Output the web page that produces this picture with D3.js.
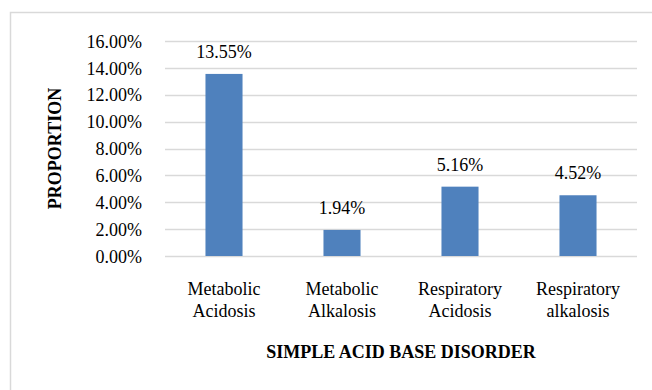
<!DOCTYPE html>
<html>
<head>
<meta charset="utf-8">
<script src="https://cdn.jsdelivr.net/npm/d3@7"></script>
<style>
  html, body { margin: 0; padding: 0; background: #fff; }
  svg { display: block; }
  text { font-family: "Liberation Serif", "Times New Roman", serif; fill: #000; }
</style>
</head>
<body>
<svg id="chart" width="652" height="390"></svg>
<script>
// Simple acid-base disorder proportions
const categories = [
  ["Metabolic", "Acidosis"],
  ["Metabolic", "Alkalosis"],
  ["Respiratory", "Acidosis"],
  ["Respiratory", "alkalosis"]
];
const values = [0.1355, 0.0194, 0.0516, 0.0452];
const yTicks = [0, 0.02, 0.04, 0.06, 0.08, 0.10, 0.12, 0.14, 0.16];
const xTitle = "SIMPLE ACID BASE DISORDER";
const yTitle = "PROPORTION";

const svg = d3.select("#chart");
const plot = { left: 165, right: 637, top: 41, bottom: 256 };

// outer frame (extends past the right and bottom edges)
svg.append("rect")
  .attr("x", 10.5).attr("y", 12.5)
  .attr("width", 700).attr("height", 450)
  .attr("fill", "none").attr("stroke", "#d9d9d9").attr("stroke-width", 1.5);

const keys = categories.map(c => c.join(" "));
const x = d3.scaleBand()
  .domain(keys)
  .range([plot.left, plot.right])
  .paddingInner(0.686)
  .paddingOuter(0.343);

const y = d3.scaleLinear()
  .domain([0, 0.16])
  .range([plot.bottom, plot.top]);

// gridlines
svg.append("g")
  .selectAll("line")
  .data(yTicks)
  .join("line")
  .attr("x1", plot.left).attr("x2", plot.right)
  .attr("y1", d => Math.round(y(d)) + 0.5).attr("y2", d => Math.round(y(d)) + 0.5)
  .attr("stroke", "#d9d9d9").attr("stroke-width", 1.5);

// y tick labels
const yAxis = d3.axisLeft(y).tickValues(yTicks).tickFormat(d3.format(".2%")).tickSize(0).tickPadding(23);
const gy = svg.append("g").attr("transform", `translate(${plot.left},0)`).call(yAxis);
gy.select(".domain").remove();
gy.selectAll("text")
  .style("font-family", '"Liberation Serif", serif')
  .style("font-size", "18px")
  .attr("fill", "#000")
  .attr("dy", "0.34em");

// bars
svg.append("g")
  .selectAll("rect")
  .data(values)
  .join("rect")
  .attr("x", (d, i) => x(keys[i]))
  .attr("width", x.bandwidth())
  .attr("y", d => y(d))
  .attr("height", d => y(0) - y(d))
  .attr("fill", "#4f81bd");

// value labels
svg.append("g")
  .selectAll("text")
  .data(values)
  .join("text")
  .attr("x", (d, i) => x(keys[i]) + x.bandwidth() / 2)
  .attr("y", d => y(d) - 16)
  .attr("text-anchor", "middle")
  .style("font-size", "18px")
  .text(d => d3.format(".2%")(d));

// category labels (two lines)
const cat = svg.append("g")
  .selectAll("text")
  .data(categories)
  .join("text")
  .attr("text-anchor", "middle")
  .style("font-size", "18px");
cat.selectAll("tspan")
  .data((d, i) => d.map(line => ({ line, i })))
  .join("tspan")
  .attr("x", d => x(keys[d.i]) + x.bandwidth() / 2)
  .attr("y", (d, j) => 295 + j * 22)
  .text(d => d.line);

// axis titles
svg.append("text")
  .attr("x", (plot.left + plot.right) / 2)
  .attr("y", 358)
  .attr("text-anchor", "middle")
  .style("font-size", "18px")
  .style("font-weight", "bold")
  .text(xTitle);

svg.append("text")
  .attr("transform", `translate(61,${(plot.top + plot.bottom) / 2}) rotate(-90)`)
  .attr("text-anchor", "middle")
  .style("font-size", "18px")
  .style("font-weight", "bold")
  .text(yTitle);
</script>
</body>
</html>
